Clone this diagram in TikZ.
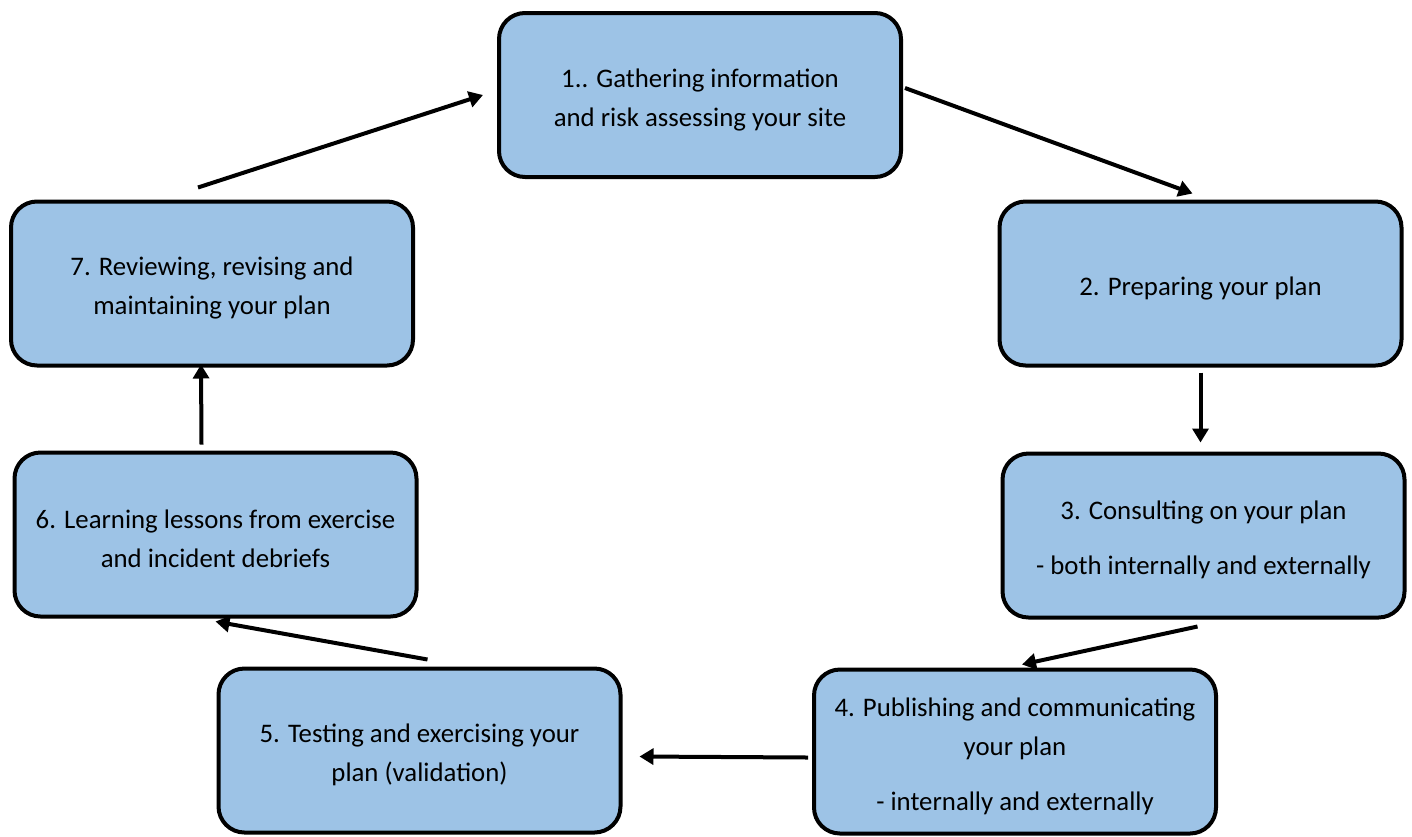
\documentclass[tikz,border=0pt]{standalone}
\usepackage{fontspec}
\setmainfont{Carlito}
\usetikzlibrary{arrows.meta}
\definecolor{boxblue}{RGB}{157,195,230}
\newcommand\haut{\rule{0pt}{14pt}}

\begin{document}
\begin{tikzpicture}[x=0.5pt,y=-0.5pt,
	>={Triangle[length=7pt,width=8pt]},
	etape/.style={draw=black,line width=2pt,fill=boxblue,rounded corners=13pt,
		minimum width=201pt,minimum height=82pt,align=center,inner sep=0pt,
		font=\fontsize{13.4}{19.5}\selectfont},
	fleche/.style={->,line width=2pt}]
	\useasboundingbox (0,0) rectangle (1412,836);

	% etapes
	\node[etape] (n1) at (700,95) {\haut 1.. Gathering information\\and risk assessing your site};
	\node[etape] (n2) at (1200.5,283.5) {\haut 2. Preparing your plan};
	\node[etape] (n3) at (1203.5,535.5) {\haut 3. Consulting on your plan\\[8pt]- both internally and externally};
	\node[etape] (n4) at (1015,751.5) {\haut 4. Publishing and communicating\\your plan\\[8pt]- internally and externally};
	\node[etape] (n5) at (419.5,750.5) {\haut 5. Testing and exercising your\\plan (validation)};
	\node[etape] (n6) at (215.5,534.5) {\haut 6. Learning lessons from exercise\\and incident debriefs};
	\node[etape] (n7) at (212,283.5) {\haut 7. Reviewing, revising and\\maintaining your plan};

	% fleches
	\draw[fleche] ([shift={(-7pt,6pt)}]n7.north) -- ([xshift=-7pt]n1.west);
	\draw[fleche] ([shift={(1pt,3.5pt)}]n1.east) -- ([shift={(-4pt,3pt)}]n2.north);
	\draw[fleche] ([yshift=-2.5pt]n2.south) -- ([yshift=4.5pt]n2.south |- n3.north);
	\draw[fleche] ([shift={(-3pt,-3.5pt)}]n3.south) -- ([shift={(3.5pt,1.5pt)}]n4.north);
	\draw[fleche] ([shift={(-2pt,-3pt)}]n4.west) -- ([shift={(8.5pt,-3pt)}]n5.east);
	\draw[fleche] ([shift={(4pt,3.5pt)}]n5.north) -- ([yshift=-1.5pt]n6.south);
	\draw[fleche] ([shift={(-7pt,3pt)}]n6.north) -- ([shift={(-5.5pt,1.5pt)}]n7.south);

\end{tikzpicture}
\end{document}
